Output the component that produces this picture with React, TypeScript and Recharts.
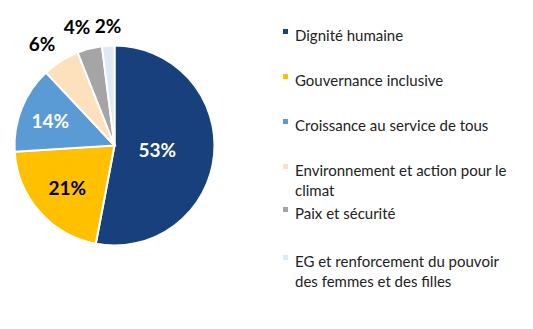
import { PieChart, Pie, Cell, Legend } from 'recharts';

const categories = [
  'Dignité humaine',
  'Gouvernance inclusive',
  'Croissance au service de tous',
  'Environnement et action pour le climat',
  'Paix et sécurité',
  'EG et renforcement du pouvoir des femmes et des filles',
];
const shares = [53, 21, 14, 6, 4, 2];
const COLORS = ['#17407c', '#ffc000', '#5b9bd5', '#fde1bc', '#a5a5a5', '#dde9f5'];

const data = categories.map((name, i) => ({ name, value: shares[i] }));

// label placement: radius fraction and small angle nudge (outside ones spread apart)
const LABEL_POS = [0.43, 0.63, 0.69, 1.25, 1.25, 1.2];
const LABEL_NUDGE = [0, 0, 0, 3, 3, -0.5];
const LABEL_FILL = ['#fff', '#000', '#fff', '#000', '#000', '#000'];
const FONT = 'Lato, "Open Sans", sans-serif';

const RAD = Math.PI / 180;

const renderLabel = (props: any) => {
  const { cx, cy, midAngle, outerRadius, index, value } = props;
  const r = outerRadius * LABEL_POS[index];
  const a = (midAngle + LABEL_NUDGE[index]) * RAD;
  const x = cx + r * Math.cos(-a);
  const y = cy + r * Math.sin(-a);
  return (
    <text
      x={x}
      y={y}
      fill={LABEL_FILL[index]}
      textAnchor="middle"
      dominantBaseline="central"
      style={{ fontFamily: FONT, fontSize: 19, fontWeight: 700 }}
    >
      {value}%
    </text>
  );
};

// first-line top of each legend entry
const LEGEND_TOPS = [25, 70, 115, 160, 203, 251];

const renderLegend = () => (
  <div style={{ position: 'relative', width: 250, height: 300, fontFamily: FONT }}>
    {categories.map((name, i) => (
      <div key={name} style={{ position: 'absolute', left: 0, top: LEGEND_TOPS[i], width: 250 }}>
        <div style={{ position: 'absolute', left: 3, top: 4, width: 5, height: 5, background: COLORS[i] }} />
        <div style={{ marginLeft: 15, width: 228, fontSize: 15, lineHeight: '20px', color: '#222' }}>{name}</div>
      </div>
    ))}
  </div>
);

export default function App() {
  return (
    <div style={{ position: 'absolute', left: 0, top: 0, width: 533, height: 329, background: '#fff' }}>
      <PieChart width={533} height={329} margin={{ top: 0, right: 0, bottom: 0, left: 0 }}>
        <Pie
          data={data}
          dataKey="value"
          nameKey="name"
          cx={114.5}
          cy={145.5}
          outerRadius={100}
          startAngle={90}
          endAngle={-270}
          stroke="#fff"
          strokeWidth={2}
          label={renderLabel}
          labelLine={false}
          isAnimationActive={false}
        >
          {data.map((d, i) => (
            <Cell key={d.name} fill={COLORS[i]} />
          ))}
        </Pie>
        <Legend
          layout="vertical"
          content={renderLegend}
          wrapperStyle={{ left: 280, top: 0, width: 250 }}
        />
      </PieChart>
    </div>
  );
}
